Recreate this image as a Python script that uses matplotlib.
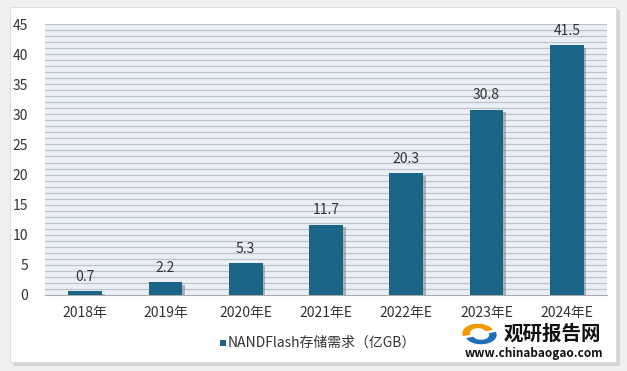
import numpy as np
import matplotlib
matplotlib.use("Agg")
import matplotlib.pyplot as plt
import matplotlib.patheffects as pe
from matplotlib.patches import Rectangle, Wedge

plt.rcParams['font.family'] = ['Noto Sans CJK SC', 'DejaVu Sans']

# data
years = ['2018年', '2019年', '2020年E', '2021年E', '2022年E', '2023年E', '2024年E']
demand = [0.7, 2.2, 5.3, 11.7, 20.3, 30.8, 41.5]
legend_label = 'NANDFlash存储需求（亿GB）'

bar_color = '#1b6588'
text_color = '#333333'

fig = plt.figure(figsize=(6.27, 3.71), dpi=100)
fig.patch.set_facecolor('#f0f0f0')

# white card with soft shadow
fig.patches.append(Rectangle((14 / 627, 1 - 366 / 371), 606 / 627, 356 / 371,
                             transform=fig.transFigure, facecolor='#d4d4d4',
                             edgecolor='none', zorder=-3))
fig.patches.append(Rectangle((10 / 627, 1 - 362 / 371), 606 / 627, 355 / 371,
                             transform=fig.transFigure, facecolor='white',
                             edgecolor='#dddddd', lw=0.8, zorder=-2))

ax = fig.add_axes([45 / 627, 1 - 295 / 371, 562 / 627, 271 / 371])
ax.set_zorder(2)
ax.set_facecolor('#eaf0f6')

# striped background
for v in np.arange(1, 46, 1):
    ax.axhline(v, color='#bcc3ca', lw=0.9, zorder=1)

x = np.arange(len(years))
bars = ax.bar(x, demand, width=0.42, color=bar_color, zorder=3,
              path_effects=[pe.SimplePatchShadow(offset=(2, -2), shadow_rgbFace='#777777', alpha=0.5),
                            pe.Normal()])

for xi, v in zip(x, demand):
    ax.text(xi, v + 1.2, f'{v:.1f}', ha='center', va='bottom', fontsize=10,
            color=text_color, zorder=4)

ax.set_xlim(-0.5, len(years) - 0.5)
ax.set_ylim(0, 45)
ax.set_yticks(np.arange(0, 46, 5))
ax.set_xticks(x)
ax.set_xticklabels(years)
ax.tick_params(axis='both', length=0, labelsize=10, colors=text_color)
ax.tick_params(axis='x', pad=8)
ax.tick_params(axis='y', pad=12)
for s in ['top', 'right', 'left']:
    ax.spines[s].set_visible(False)
ax.spines['bottom'].set_color('#aaaaaa')

# legend
fig.patches.append(Rectangle((220 / 627, 1 - 346 / 371), 6 / 627, 6 / 371,
                             transform=fig.transFigure, facecolor=bar_color,
                             edgecolor='none'))
fig.text(228 / 627, 1 - 343 / 371, legend_label, fontsize=10, color=text_color,
         va='center', ha='left')

# watermark
fig.patches.append(Wedge((478 / 627, 1 - 333 / 371), 0.025, 20, 200,
                         width=0.012, transform=fig.transFigure, facecolor='#f39800'))
fig.patches.append(Wedge((481 / 627, 1 - 335 / 371), 0.025, 200, 380,
                         width=0.012, transform=fig.transFigure, facecolor='#1f6fb5'))
fig.text(552 / 627, 1 - 334 / 371, '观研报告网', fontsize=14, fontweight='bold',
         color='#111111', ha='center', va='center')
fig.text(534 / 627, 1 - 353 / 371, 'www.chinabaogao.com', fontsize=8.5,
         fontweight='bold', color='#111111', ha='center', va='center')

fig.savefig('out.png', dpi=100, facecolor=fig.get_facecolor())
